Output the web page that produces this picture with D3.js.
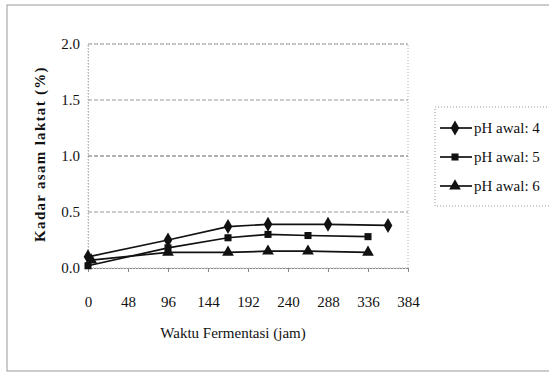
<!DOCTYPE html>
<html>
<head>
<meta charset="utf-8">
<script src="https://cdn.jsdelivr.net/npm/d3@7"></script>
<style>
    body { margin: 0; background: #fff; overflow: hidden; }
    svg text { font-family: "Liberation Serif", "Times New Roman", "DejaVu Serif", serif; fill: #111; }
</style>
</head>
<body>
<svg id="chart" width="549" height="375"></svg>
<script>
// values
const xTicks = [0, 48, 96, 144, 192, 240, 288, 336, 384];
const yTicks = [0, 0.5, 1.0, 1.5, 2.0];

const seriesNames = ['pH awal: 4', 'pH awal: 5', 'pH awal: 6'];
const seriesSymbols = ['diamond', 'square', 'triangle'];

const ph4 = [[0, 0.10], [96, 0.25], [168, 0.37], [216, 0.39], [288, 0.39], [360, 0.38]];
const ph5 = [[0, 0.02], [96, 0.18], [168, 0.27], [216, 0.30], [264, 0.29], [336, 0.28]];
const ph6 = [[4, 0.07], [96, 0.14], [168, 0.14], [216, 0.15], [264, 0.15], [336, 0.14]];

const xTitle = 'Waktu Fermentasi (jam)';
const yTitle = 'Kadar asam laktat (%)';

const serif = '"Liberation Serif", "Times New Roman", "DejaVu Serif", serif';

const svg = d3.select('#chart');

const plot = { left: 88, right: 408, top: 44, bottom: 268 };

const x = d3.scaleLinear().domain([0, 384]).range([plot.left, plot.right]);
const y = d3.scaleLinear().domain([0, 2]).range([plot.bottom, plot.top]);

const symbolType = {
    diamond: d3.symbolDiamond,
    square: d3.symbolSquare,
    triangle: d3.symbolTriangle
};
const symbolSize = { diamond: 65, square: 50, triangle: 60 };

// outer frame (right side runs off the picture)
svg.append('rect')
    .attr('x', 7).attr('y', 5)
    .attr('width', 600).attr('height', 366)
    .attr('fill', 'none')
    .attr('stroke', '#999')
    .attr('stroke-width', 1);

// gridlines
svg.append('g')
    .selectAll('line')
    .data(yTicks.filter(d => d > 0))
    .enter()
    .append('line')
    .attr('x1', plot.left)
    .attr('x2', plot.right)
    .attr('y1', d => y(d))
    .attr('y2', d => y(d))
    .attr('stroke', d => d == 1 ? '#666' : '#999')
    .attr('stroke-width', 1)
    .attr('stroke-dasharray', '4,2');

// plot border
svg.append('rect')
    .attr('x', plot.left).attr('y', plot.top)
    .attr('width', plot.right - plot.left)
    .attr('height', plot.bottom - plot.top)
    .attr('fill', 'none')
    .attr('stroke', '#aaa')
    .attr('stroke-dasharray', '1,2');

// x axis
const xAxis = d3.axisBottom(x)
    .tickValues(xTicks)
    .tickSize(4)
    .tickPadding(24)
    .tickFormat(d3.format('d'));

const gx = svg.append('g')
    .attr('transform', `translate(0,${plot.bottom})`)
    .call(xAxis)
    .attr('font-family', serif)
    .attr('font-size', 15);
gx.select('.domain').attr('stroke', '#888').attr('stroke-dasharray', '2,1');
gx.selectAll('.tick line').attr('stroke', '#888');
gx.selectAll('.tick text').attr('fill', '#111');

// y axis
const yAxis = d3.axisLeft(y)
    .tickValues(yTicks)
    .tickSize(0)
    .tickPadding(8)
    .tickFormat(d3.format('.1f'));

const gy = svg.append('g')
    .attr('transform', `translate(${plot.left},0)`)
    .call(yAxis)
    .attr('font-family', serif)
    .attr('font-size', 15);
gy.select('.domain').attr('stroke', '#999').attr('stroke-dasharray', '1,2');
gy.selectAll('.tick text').attr('fill', '#111');

// axis titles
svg.append('text')
    .attr('x', 233)
    .attr('y', 338)
    .attr('text-anchor', 'middle')
    .attr('font-family', serif)
    .attr('font-size', 15)
    .text(xTitle);

svg.append('text')
    .attr('transform', 'translate(45,154) rotate(-90)')
    .attr('text-anchor', 'middle')
    .attr('font-family', serif)
    .attr('font-size', 15)
    .attr('font-weight', 'bold')
    .style('letter-spacing', '1.3px')
    .text(yTitle);

// series
const allSeries = [ph4, ph5, ph6];

const line = d3.line()
    .x(d => x(d[0]))
    .y(d => y(d[1]));

allSeries.forEach((data, i) => {
    svg.append('path')
        .datum(data)
        .attr('d', line)
        .attr('fill', 'none')
        .attr('stroke', '#111')
        .attr('stroke-width', 1.7);

    const sym = seriesSymbols[i];
    svg.append('g')
        .selectAll('path')
        .data(data)
        .enter()
        .append('path')
        .attr('transform', d => `translate(${x(d[0])},${y(d[1])})`)
        .attr('d', d3.symbol().type(symbolType[sym]).size(symbolSize[sym]))
        .attr('fill', '#111');
});

// legend (right side runs off the picture)
const legend = svg.append('g').attr('transform', 'translate(435,107)');

legend.append('rect')
    .attr('width', 150)
    .attr('height', 99)
    .attr('fill', '#fff')
    .attr('stroke', '#999')
    .attr('stroke-dasharray', '1,2');

const legendItem = legend.selectAll('g.item')
    .data(seriesNames)
    .enter()
    .append('g')
    .attr('class', 'item')
    .attr('transform', (d, i) => `translate(0,${21 + i * 29})`);

legendItem.append('line')
    .attr('x1', 5).attr('x2', 37)
    .attr('stroke', '#111')
    .attr('stroke-width', 1.7);

legendItem.append('path')
    .attr('transform', 'translate(20,0)')
    .attr('d', (d, i) => d3.symbol().type(symbolType[seriesSymbols[i]]).size(symbolSize[seriesSymbols[i]])())
    .attr('fill', '#111');

legendItem.append('text')
    .attr('x', 39)
    .attr('y', 5)
    .attr('font-family', serif)
    .attr('font-size', 15)
    .text(d => d);
</script>
</body>
</html>
